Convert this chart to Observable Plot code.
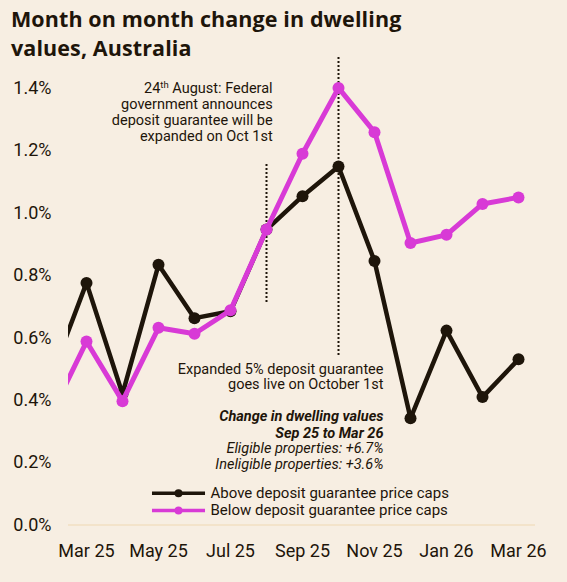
<!DOCTYPE html>
<html>
<head>
<meta charset="utf-8">
<script src="https://cdn.jsdelivr.net/npm/d3@7"></script>
<script src="https://cdn.jsdelivr.net/npm/@observablehq/plot@0.6"></script>
<style>
  html, body { margin: 0; padding: 0; background: #f7eee2; }
  body { width: 567px; height: 582px; overflow: hidden; font-family: Roboto, "Noto Sans", sans-serif; color: #1e150a; }
  #title { height: 63px; box-sizing: border-box; padding: 4px 0 0 11px; font-family: "Open Sans", Roboto, sans-serif; font-size: 21.5px; font-weight: 700; line-height: 29px; letter-spacing: 0.1px; }
  #chart svg { display: block; }
</style>
</head>
<body>
<div id="title">Month on month change in dwelling<br>values, Australia</div>
<div id="chart"></div>
<script>
// Months (index 0 = Feb 25, partly outside the visible frame)
const months = ["Feb 25","Mar 25","Apr 25","May 25","Jun 25","Jul 25","Aug 25","Sep 25","Oct 25","Nov 25","Dec 25","Jan 26","Feb 26","Mar 26"];
// Month-on-month change (%)
const above = [0.47, 0.776, 0.42, 0.834, 0.663, 0.685, 0.947, 1.054, 1.149, 0.846, 0.342, 0.623, 0.41, 0.531];
const below = [0.35, 0.588, 0.397, 0.632, 0.613, 0.688, 0.947, 1.19, 1.401, 1.259, 0.904, 0.93, 1.029, 1.05];
const seriesNames = ["Above deposit guarantee price caps", "Below deposit guarantee price caps"];
const colors = ["#1e150a", "#d83ad6"];
const xTicks = [1, 3, 5, 7, 9, 11, 13];
const yTicks = [0, 0.2, 0.4, 0.6, 0.8, 1.0, 1.2, 1.4];
// Event markers: announcement (Aug 25) and start (Oct 25)
const eventIdx = [6, 8];
const eventLow = [0.713, 0.543];
const eventHigh = [1.159, 1.498];
const note1 = "24th August: Federal\ngovernment announces\ndeposit guarantee will be\nexpanded on Oct 1st";
const note2 = "Expanded 5% deposit guarantee\ngoes live on October 1st";
const note3 = "Change in dwelling values\nSep 25 to Mar 26";
const note4 = "Eligible properties: +6.7%\nIneligible properties: +3.6%";

const rows = (vals) => vals.map((v, i) => ({i, v}));
const ink = "#1e150a";
const legend = [
  {name: seriesNames[0], c: colors[0], y: 0.102},
  {name: seriesNames[1], c: colors[1], y: 0.0465}
];

const plot = Plot.plot({
  width: 567,
  height: 519,
  marginLeft: 68,
  marginRight: 32,
  marginTop: 0,
  marginBottom: 57.5,
  x: {type: "linear", domain: [0.5, 13.472]},
  y: {domain: [0, 1.4], range: [461.5, 24.7]},
  style: {background: "transparent", fontFamily: "Roboto, sans-serif", color: ink, overflow: "visible"},
  marks: [
    Plot.ruleY([0], {stroke: "#f2dfc2", strokeWidth: 1.5}),
    Plot.axisY({ticks: yTicks, tickSize: 0, tickPadding: 17, tickFormat: d => d.toFixed(1) + "%", fontSize: 18, label: null}),
    Plot.axisX({ticks: xTicks, tickSize: 0, tickPadding: 19, tickFormat: i => months[i], fontSize: 18, label: null}),
    Plot.ruleX(eventIdx, {x: d => d, y1: (d, k) => eventLow[k], y2: (d, k) => eventHigh[k], stroke: ink, strokeWidth: 2, strokeDasharray: "2,2"}),
    Plot.line(rows(above), {x: "i", y: "v", stroke: colors[0], strokeWidth: 4.5, clip: true}),
    Plot.dot(rows(above), {x: "i", y: "v", r: 6, fill: colors[0], clip: true}),
    Plot.line(rows(below), {x: "i", y: "v", stroke: colors[1], strokeWidth: 5, clip: true}),
    Plot.dot(rows(below), {x: "i", y: "v", r: 6, fill: colors[1], clip: true}),
    Plot.text([note1], {x: 6.17, y: 1.325, text: d => d, textAnchor: "end", fontSize: 14.5, lineHeight: 16 / 14.5, fill: ink}),
    Plot.text([note2], {x: 9.25, y: 0.4766, text: d => d, textAnchor: "end", fontSize: 14.5, lineHeight: 15.5 / 14.5, fill: ink}),
    Plot.text([note3], {x: 9.25, y: 0.3237, text: d => d, textAnchor: "end", fontSize: 14.5, lineHeight: 17 / 14.5, fontWeight: 700, fontStyle: "italic", fill: ink}),
    Plot.text([note4], {x: 9.25, y: 0.221, text: d => d, textAnchor: "end", fontSize: 14.5, lineHeight: 15.5 / 14.5, fontStyle: "italic", fill: ink}),
    Plot.ruleY(legend, {y: "y", x1: 2.833, x2: 4.306, stroke: "c", strokeWidth: 3.5}),
    Plot.dot(legend, {x: 3.556, y: "y", r: 4, fill: "c"}),
    Plot.text(legend, {x: 4.444, y: "y", text: "name", textAnchor: "start", fontSize: 15, fill: ink})
  ]
});

// superscript "th" in the first note
plot.querySelectorAll("text, tspan").forEach(el => {
  if (el.childElementCount === 0 && el.textContent === "24th August: Federal") {
    el.textContent = "";
    const ns = "http://www.w3.org/2000/svg";
    const a = document.createElementNS(ns, "tspan"); a.textContent = "24";
    const b = document.createElementNS(ns, "tspan"); b.textContent = "th"; b.setAttribute("font-size", "9.5"); b.setAttribute("baseline-shift", "5");
    const c = document.createElementNS(ns, "tspan"); c.textContent = " August: Federal";
    el.append(a, b, c);
  }
});
document.getElementById("chart").append(plot);
</script>
</body>
</html>
